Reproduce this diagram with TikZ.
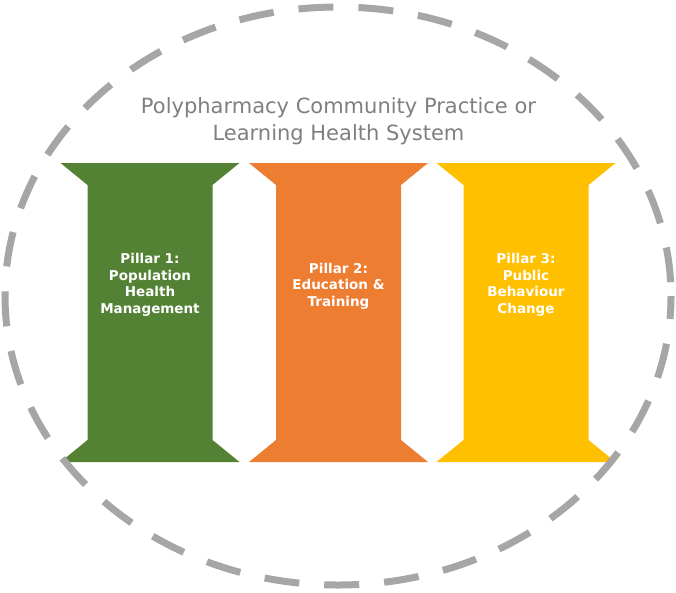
\documentclass[tikz,border=0pt]{standalone}
\usepackage{fontspec}
\setmainfont{DejaVu Sans}
\definecolor{pgreen}{HTML}{548235}
\definecolor{porange}{HTML}{ED7D31}
\definecolor{pyellow}{HTML}{FFC000}
\definecolor{ringgray}{HTML}{A6A6A6}
\definecolor{titlegray}{HTML}{7F7F7F}
\begin{document}
\begin{tikzpicture}[x=1pt,y=-1pt,
  pillartext/.style={text=white,font=\bfseries\fontsize{13.5}{16.6}\selectfont,align=center},
  ring/.style={draw=ringgray,line width=7pt,dash pattern=on 35pt off 25pt,dash phase=12pt}]
\useasboundingbox (0,0) rectangle (676,592);
\foreach \cx/\col in {150/pgreen,338.5/porange,526/pyellow}{
  \fill[\col] (\cx-89.5,163) -- (\cx+89.5,163) -- (\cx+62.5,185) -- (\cx+62.5,440)
    -- (\cx+89.5,462) -- (\cx-89.5,462) -- (\cx-62.5,440) -- (\cx-62.5,185) -- cycle;
}
\node[text=titlegray,font=\fontsize{21}{27}\selectfont,align=center] (title) at (338.5,121)
  {Polypharmacy Community Practice or\\Learning Health System};
\node[pillartext] (p1) at (150,285) {Pillar 1:\\Population\\Health\\Management};
\node[pillartext] (p2) at (338.5,286) {Pillar 2:\\Education \&\\Training};
\node[pillartext] (p3) at (526,285) {Pillar 3:\\Public\\Behaviour\\Change};
\draw[ring] (338,296) ellipse (333 and 289);
\end{tikzpicture}
\end{document}
